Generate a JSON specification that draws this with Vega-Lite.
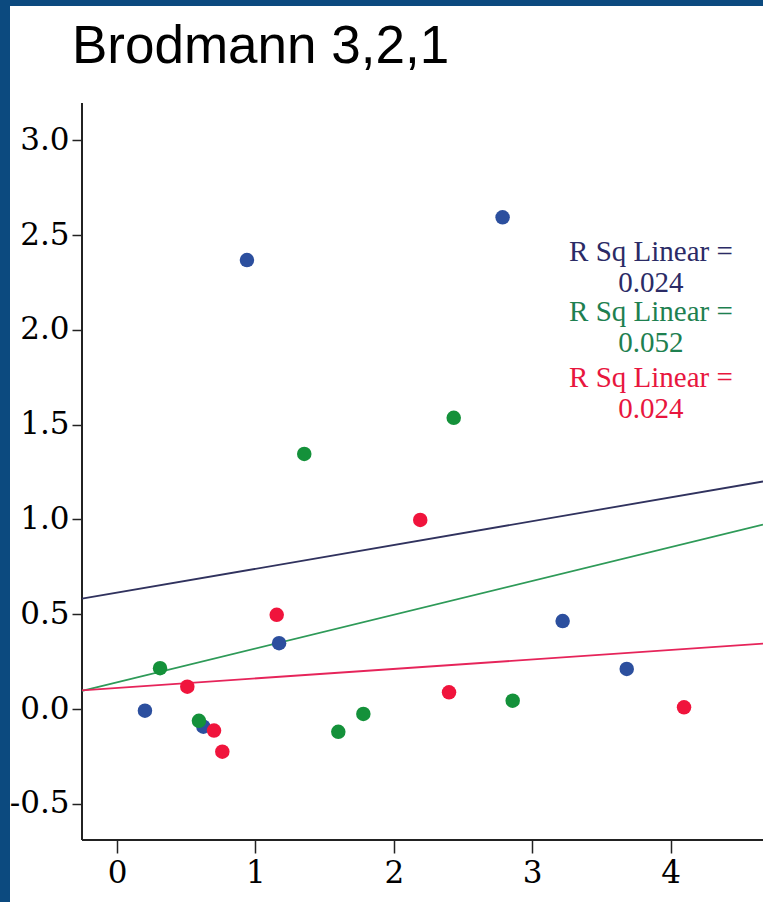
{
  "$schema": "https://vega.github.io/schema/vega-lite/v6.json",
  "width": 753,
  "height": 896,
  "autosize": {"type": "none"},
  "padding": {"left": 10, "top": 6, "right": 0, "bottom": 0},
  "background": "#0c4a7f",
  "config": {
    "view": {"fill": "white", "stroke": null},
    "axis": {"grid": false, "domain": false, "title": null, "labelColor": "black", "tickColor": "#222222", "tickWidth": 1.5, "labelFont": "DejaVu Serif"}
  },
  "title": {
    "text": "Brodmann 3,2,1",
    "anchor": "start",
    "frame": "group",
    "orient": "top",
    "offset": -110,
    "dx": 62,
    "font": "Liberation Sans",
    "fontSize": 53,
    "fontWeight": "normal",
    "color": "black",
    "baseline": "alphabetic"
  },
  "datasets": {
    "points": [
      {"group": "Group 1", "x": 0.202, "y": -0.009},
      {"group": "Group 1", "x": 0.939, "y": 2.368},
      {"group": "Group 1", "x": 0.624, "y": -0.093},
      {"group": "Group 1", "x": 1.171, "y": 0.347},
      {"group": "Group 1", "x": 2.786, "y": 2.593},
      {"group": "Group 1", "x": 3.220, "y": 0.464},
      {"group": "Group 1", "x": 3.683, "y": 0.211},
      {"group": "Group 2", "x": 0.311, "y": 0.215},
      {"group": "Group 2", "x": 0.592, "y": -0.062},
      {"group": "Group 2", "x": 1.353, "y": 1.345},
      {"group": "Group 2", "x": 1.599, "y": -0.120},
      {"group": "Group 2", "x": 1.780, "y": -0.026},
      {"group": "Group 2", "x": 2.433, "y": 1.536},
      {"group": "Group 2", "x": 2.859, "y": 0.044},
      {"group": "Group 3", "x": 0.508, "y": 0.118},
      {"group": "Group 3", "x": 0.701, "y": -0.114},
      {"group": "Group 3", "x": 0.761, "y": -0.225},
      {"group": "Group 3", "x": 1.154, "y": 0.497},
      {"group": "Group 3", "x": 2.191, "y": 0.997},
      {"group": "Group 3", "x": 2.399, "y": 0.088},
      {"group": "Group 3", "x": 4.097, "y": 0.009}
    ],
    "one": [{}]
  },
  "layer": [
    {
      "data": {"name": "one"},
      "mark": {"type": "rule", "color": "#222222", "strokeWidth": 2},
      "encoding": {
        "x": {"datum": -0.2529, "type": "quantitative", "scale": {"domain": [-0.7731, 4.6676], "nice": false, "zero": false}},
        "y": {"datum": -0.6909, "type": "quantitative", "scale": {"domain": [-1.0179, 3.7078], "nice": false, "zero": false}},
        "y2": {"datum": 3.196}
      }
    },
    {
      "data": {"name": "one"},
      "mark": {"type": "rule", "color": "#222222", "strokeWidth": 2},
      "encoding": {
        "x": {"datum": -0.2529, "type": "quantitative"},
        "x2": {"datum": 4.6676},
        "y": {"datum": -0.6909, "type": "quantitative"}
      }
    },
    {
      "data": {"name": "points"},
      "transform": [{"regression": "y", "on": "x", "groupby": ["group"], "extent": [-0.2529, 4.6676]}],
      "mark": {"type": "line", "strokeWidth": 1.8},
      "encoding": {
        "x": {"field": "x", "type": "quantitative"},
        "y": {"field": "y", "type": "quantitative"},
        "stroke": {"field": "group", "type": "nominal", "scale": {"domain": ["Group 1", "Group 2", "Group 3"], "range": ["#30325e", "#2e9a58", "#e6245a"]}, "legend": null}
      }
    },
    {
      "data": {"name": "points"},
      "mark": {"type": "circle", "size": 210, "opacity": 1},
      "encoding": {
        "x": {"field": "x", "type": "quantitative", "axis": {"values": [0, 1, 2, 3, 4], "offset": -62, "tickSize": 13, "labelFontSize": 31, "labelPadding": 5, "format": "d"}},
        "y": {"field": "y", "type": "quantitative", "axis": {"values": [-0.5, 0, 0.5, 1, 1.5, 2, 2.5, 3], "offset": -72, "tickSize": 10, "labelFontSize": 31, "labelPadding": 3, "labelExpr": "datum.value < 0 ? '-' + format(-datum.value, '.1f') : format(datum.value, '.1f')"}},
        "fill": {"field": "group", "type": "nominal", "scale": {"domain": ["Group 1", "Group 2", "Group 3"], "range": ["#2c4f9e", "#14913a", "#f0143c"]}, "legend": null}
      }
    },
    {
      "data": {"name": "one"},
      "mark": {"type": "text", "font": "Liberation Serif", "fontSize": 29, "align": "center", "baseline": "middle", "lineHeight": 31, "color": "#2b2b66"},
      "encoding": {
        "x": {"datum": 3.858, "type": "quantitative"},
        "y": {"datum": 2.41, "type": "quantitative"},
        "text": {"value": ["R Sq Linear =", "0.024"]}
      }
    },
    {
      "data": {"name": "one"},
      "mark": {"type": "text", "font": "Liberation Serif", "fontSize": 29, "align": "center", "baseline": "middle", "lineHeight": 31, "color": "#1e8050"},
      "encoding": {
        "x": {"datum": 3.858, "type": "quantitative"},
        "y": {"datum": 2.094, "type": "quantitative"},
        "text": {"value": ["R Sq Linear =", "0.052"]}
      }
    },
    {
      "data": {"name": "one"},
      "mark": {"type": "text", "font": "Liberation Serif", "fontSize": 29, "align": "center", "baseline": "middle", "lineHeight": 31, "color": "#e8163e"},
      "encoding": {
        "x": {"datum": 3.858, "type": "quantitative"},
        "y": {"datum": 1.746, "type": "quantitative"},
        "text": {"value": ["R Sq Linear =", "0.024"]}
      }
    }
  ]
}
